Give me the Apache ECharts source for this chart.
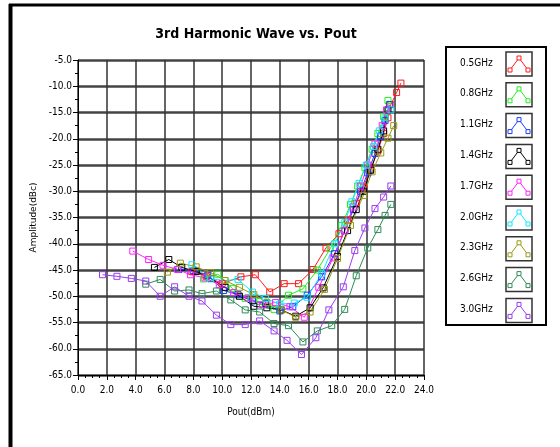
<!DOCTYPE html>
<html><head><meta charset="utf-8">
<script src="https://cdn.jsdelivr.net/npm/echarts@6/dist/echarts.min.js"></script>
<style>html,body{margin:0;padding:0;background:#fff}#c{width:560px;height:447px}</style>
</head><body><div id="c"></div>
<script>
// ---- data (Pout dBm, Amplitude dBc) ----
const seriesNames = ['0.5GHz','0.8GHz','1.1GHz','1.4GHz','1.7GHz','2.0GHz','2.3GHz','2.6GHz','3.0GHz'];
const f05 = [[7.9,-45.3],[8.9,-46.2],[10.0,-47.6],[11.3,-46.3],[12.3,-45.9],[13.3,-49.2],[14.3,-47.6],[15.3,-47.6],[16.3,-44.9],[17.2,-40.8],[18.1,-38.1],[18.7,-35.5],[19.3,-32.3],[19.8,-29.2],[20.3,-25.8],[20.8,-22.3],[21.2,-19.0],[21.5,-16.0],[21.7,-13.5],[22.1,-11.2],[22.4,-9.4]];
const f08 = [[8.7,-46.7],[9.7,-45.8],[10.7,-48.5],[11.6,-50.4],[12.6,-51.0],[13.6,-52.5],[14.6,-49.8],[15.6,-48.6],[16.6,-45.0],[17.5,-40.9],[18.3,-36.5],[18.9,-32.5],[19.4,-29.0],[19.9,-25.5],[20.4,-22.0],[20.8,-19.0],[21.2,-15.8],[21.5,-12.7]];
const f11 = [[7.0,-44.9],[8.0,-45.1],[9.0,-46.0],[10.1,-48.9],[11.1,-49.7],[12.1,-50.9],[13.0,-51.4],[14.0,-52.8],[14.9,-52.0],[15.9,-49.8],[16.9,-46.3],[17.8,-41.9],[18.5,-37.5],[19.1,-33.5],[19.6,-30.0],[20.1,-26.5],[20.6,-22.8],[21.0,-19.5],[21.3,-16.5],[21.6,-13.5]];
const f14 = [[5.3,-44.5],[6.3,-43.0],[7.2,-44.5],[8.2,-45.3],[9.2,-46.6],[10.2,-48.3],[11.2,-50.0],[12.2,-51.9],[13.1,-52.2],[14.1,-52.6],[15.1,-53.8],[16.1,-52.2],[17.0,-48.4],[18.0,-42.4],[18.7,-37.5],[19.3,-33.5],[19.8,-30.0],[20.3,-26.0],[20.8,-22.0],[21.2,-18.5],[21.5,-14.5]];
const f17 = [[3.8,-41.4],[4.9,-43.0],[5.9,-44.1],[6.9,-44.9],[7.8,-45.9],[8.8,-46.5],[9.8,-47.8],[10.8,-49.3],[11.8,-50.3],[12.8,-51.6],[13.7,-51.2],[14.7,-52.0],[15.7,-54.0],[16.7,-48.3],[17.7,-42.7],[18.5,-37.5],[19.1,-33.0],[19.6,-29.0],[20.1,-25.0],[20.6,-21.0],[21.1,-17.5],[21.4,-14.5]];
const f20 = [[7.9,-44.0],[9.2,-46.7],[10.2,-47.0],[11.1,-46.8],[12.1,-49.2],[13.0,-50.4],[14.0,-51.5],[15.0,-51.3],[15.9,-50.2],[16.9,-45.7],[17.8,-40.0],[18.5,-36.0],[19.0,-32.0],[19.5,-28.5],[20.0,-25.0],[20.5,-21.5],[20.9,-18.5],[21.3,-16.0],[21.7,-14.5]];
const f23 = [[6.2,-45.4],[7.1,-43.7],[8.2,-44.4],[9.2,-45.5],[10.2,-47.0],[11.2,-48.3],[12.2,-49.7],[13.1,-51.2],[14.1,-52.6],[15.1,-54.0],[16.1,-53.0],[17.1,-48.7],[18.0,-42.8],[18.9,-36.5],[19.8,-30.8],[20.4,-26.3],[21.0,-22.7],[21.5,-19.9],[21.9,-17.5]];
const f26 = [[4.7,-47.7],[5.7,-46.8],[6.7,-49.0],[7.7,-48.8],[8.6,-49.5],[9.6,-49.0],[10.6,-50.7],[11.6,-52.6],[12.6,-53.0],[13.6,-55.2],[14.6,-55.6],[15.6,-58.7],[16.6,-56.6],[17.6,-55.6],[18.5,-52.5],[19.3,-46.1],[20.1,-40.8],[20.8,-37.3],[21.3,-34.6],[21.7,-32.5]];
const f30 = [[1.7,-45.9],[2.7,-46.2],[3.7,-46.6],[4.7,-47.1],[5.7,-50.0],[6.7,-48.2],[7.7,-50.0],[8.6,-50.9],[9.6,-53.6],[10.6,-55.4],[11.6,-55.4],[12.6,-54.7],[13.6,-56.6],[14.5,-58.4],[15.5,-61.1],[16.5,-57.9],[17.4,-52.6],[18.4,-48.2],[19.2,-41.3],[19.9,-37.0],[20.6,-33.3],[21.2,-31.1],[21.7,-29.0]];
const seriesData = [f05,f08,f11,f14,f17,f20,f23,f26,f30];
// ---- styles ----
const colors = ['#ff1a1a','#22ee22','#1a3cff','#000000','#ff22ff','#11e8ff','#9a9a14','#2e8b57','#9a3cf0'];
const FONT = '"DejaVu Sans Condensed","Liberation Sans",Arial,sans-serif';

const chart = echarts.init(document.getElementById('c'), null, {renderer:'canvas'});

const graphics = [
  {type:'line', shape:{x1:10.5,y1:4,x2:10.5,y2:447}, style:{stroke:'#000',lineWidth:4}, silent:true},
  {type:'line', shape:{x1:9,y1:5,x2:560,y2:5}, style:{stroke:'#000',lineWidth:3}, silent:true},
  {type:'rect', shape:{x:446,y:47,width:100,height:278}, style:{fill:'none',stroke:'#000',lineWidth:2}, silent:true}
];
seriesNames.forEach((name,i)=>{
  const cy = 64 + i*30.8;
  graphics.push({type:'text', left:460, top:cy-6, style:{text:name, font:'10px '+FONT, fill:'#000'}});
  graphics.push({type:'rect', shape:{x:506,y:cy-12,width:26,height:24}, style:{fill:'#fff',stroke:'#333',lineWidth:1.5}});
  graphics.push({type:'polyline', shape:{points:[[510,cy+6],[519,cy-6],[528,cy+6]]}, style:{stroke:colors[i],lineWidth:1,fill:'none'}});
  [[510,cy+6],[519,cy-6],[528,cy+6]].forEach(p=>{
    graphics.push({type:'rect', shape:{x:p[0]-2,y:p[1]-2,width:4,height:4}, style:{fill:'#fff',stroke:colors[i],lineWidth:1}});
  });
});

chart.setOption({
  animation:false,
  backgroundColor:'#fff',
  title:{text:'3rd Harmonic Wave vs. Pout', left:251, top:22, textAlign:'center',
    textStyle:{fontFamily:FONT, fontSize:14, fontWeight:'bold', color:'#000'}},
  grid:{left:78, right:136, top:60, bottom:72},
  xAxis:{type:'value', min:0, max:24, interval:2, name:'Pout(dBm)', nameLocation:'middle', nameGap:32,
    nameTextStyle:{fontFamily:FONT, fontSize:10, color:'#000'},
    axisLine:{onZero:false, lineStyle:{color:'#000',width:1}},
    axisTick:{show:true, length:5, lineStyle:{color:'#000'}},
    minorTick:{show:true, splitNumber:4, length:3, lineStyle:{color:'#000'}},
    axisLabel:{formatter:v=>v.toFixed(1), fontFamily:FONT, fontSize:10, color:'#000', margin:10},
    splitLine:{show:true, lineStyle:{color:'#333', width:1.5}}},
  yAxis:{type:'value', min:-65, max:-5, interval:5, name:'Amplitude(dBc)', nameLocation:'middle', nameGap:37, nameRotate:90,
    nameTextStyle:{fontFamily:'"DejaVu Sans","Liberation Sans",Arial,sans-serif', fontSize:9, color:'#000'},
    axisLine:{onZero:false, lineStyle:{color:'#000',width:1}},
    axisTick:{show:true, length:5, lineStyle:{color:'#000'}},
    minorTick:{show:true, splitNumber:2, length:3, lineStyle:{color:'#000'}},
    axisLabel:{formatter:v=>v.toFixed(1), fontFamily:FONT, fontSize:10, color:'#000', margin:6},
    splitLine:{show:true, lineStyle:{color:'#444', width:2.5}}},
  series: seriesNames.map((n,i)=>({
    name:n, type:'line', data:seriesData[i], symbol:'rect', symbolSize:6,
    lineStyle:{color:colors[i], width:1},
    itemStyle:{color:'rgba(255,255,255,0)', borderColor:colors[i], borderWidth:1},
    emphasis:{disabled:true}
  })),
  graphic:graphics
});
</script></body></html>
